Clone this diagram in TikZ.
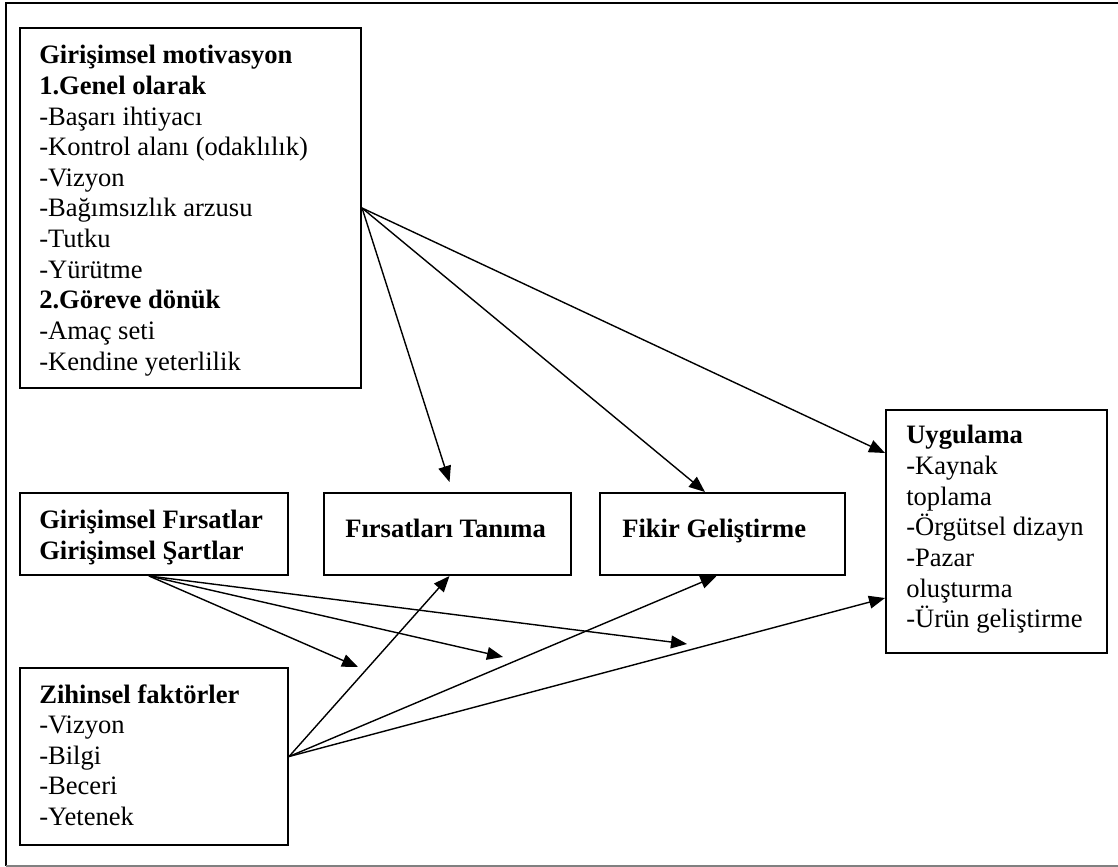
\documentclass[tikz,border=0pt]{standalone}
\usepackage{fontspec}
\setmainfont{Liberation Serif}
\usetikzlibrary{arrows.meta, calc}
\tikzset{
  blk/.style  = {draw, line width=1.4pt, rectangle, inner sep=0pt,
                 anchor=north west},
  txt/.style  = {anchor=north west, align=left, inner sep=0pt,
                 font=\fontsize{18.9}{21.8}\selectfont},
  flow/.style = {-{Triangle[length=4mm, width=3.2mm]}, line width=1pt},
}
\begin{document}
\begin{tikzpicture}[x=0.025cm, y=-0.025cm]
  \useasboundingbox (0,0) rectangle (1118,867);

  %% ---------------- the frame ----------------
  \draw[line width=1.4pt] (1118,3) -- (6,3) -- (6,866);
  \draw[gray, line width=1pt] (6,866) -- (1118,866);

  %% ---------------- the boxes ----------------
  \node[blk, minimum width=8.525cm, minimum height=9cm]     (mot)  at (19,27)  {};
  \node[blk, minimum width=6.7cm,   minimum height=2.05cm]  (opp)  at (19,492) {};
  \node[blk, minimum width=6.7cm,   minimum height=4.425cm] (cog)  at (19,667) {};
  \node[blk, minimum width=6.175cm, minimum height=2.05cm]  (rec)  at (323,492) {};
  \node[blk, minimum width=6.125cm, minimum height=2.05cm]  (idea) at (599,492) {};
  \node[blk, minimum width=5.525cm, minimum height=6.075cm] (impl) at (885,409) {};

  \node[txt] at ($(mot.north west)+(20,18)$)
       {\textbf{Girişimsel motivasyon}\\
        \textbf{1.Genel olarak}\\
        -Başarı ihtiyacı\\
        -Kontrol alanı (odaklılık)\\
        -Vizyon\\
        -Bağımsızlık arzusu\\
        -Tutku\\
        -Yürütme\\
        \textbf{2.Göreve dönük}\\
        -Amaç seti\\
        -Kendine yeterlilik};
  \node[txt] at ($(opp.north west)+(20,18)$)
       {\textbf{Girişimsel Fırsatlar}\\
        \textbf{Girişimsel Şartlar}};
  \node[txt] at ($(cog.north west)+(20,17)$)
       {\textbf{Zihinsel faktörler}\\
        -Vizyon\\
        -Bilgi\\
        -Beceri\\
        -Yetenek};
  \node[txt] at ($(rec.north west)+(22,27)$)  {\textbf{Fırsatları Tanıma}};
  \node[txt] at ($(idea.north west)+(23,27)$) {\textbf{Fikir Geliştirme}};
  \node[txt] at ($(impl.north west)+(21,16)$)
       {\textbf{Uygulama}\\
        -Kaynak\\
        toplama\\
        -Örgütsel dizayn\\
        -Pazar\\
        oluşturma\\
        -Ürün geliştirme};

  %% ---------------- the arrows ----------------
  \draw[flow] (mot.east) -- ($(rec.north)+(2,-10)$);
  \draw[flow] (mot.east) -- ($(idea.north west)+(106,0)$);
  \draw[flow] (mot.east) -- ($(impl.north west)+(0,44)$);

  % these three stop short in the open
  \coordinate (opp-out) at ($(opp.south)+(-5,0)$);
  \coordinate (f1) at (358,667);
  \coordinate (f2) at (503,657);
  \coordinate (f3) at (687,644);
  \foreach \f in {f1,f2,f3}
    \draw[flow] (opp-out) -- (\f);

  \draw[flow] (cog.east) -- ($(rec.south)+(2,0)$);
  \draw[flow] (cog.east) -- ($(idea.south)+(-6,0)$);
  \draw[flow] (cog.east) -- ($(impl.north west)+(0,189)$);

\end{tikzpicture}
\end{document}
